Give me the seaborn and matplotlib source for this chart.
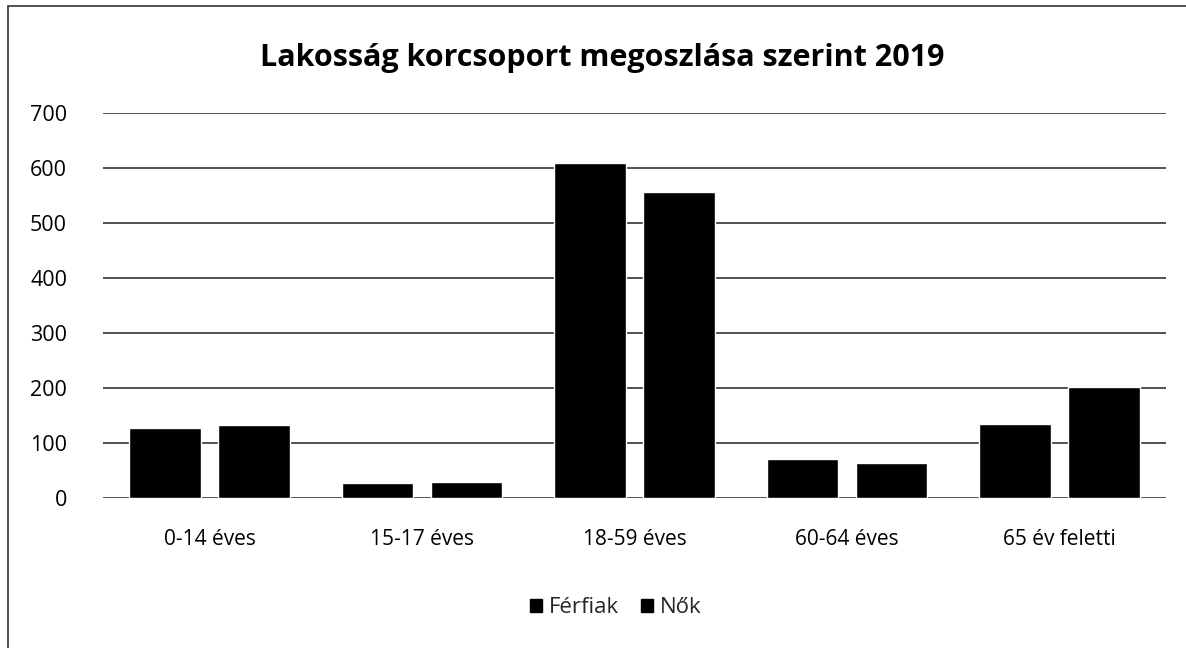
import matplotlib
matplotlib.use("Agg")
import matplotlib.pyplot as plt
import seaborn as sns
import pandas as pd
from matplotlib.patches import Rectangle, Patch

categories = ["0-14 éves", "15-17 éves", "18-59 éves", "60-64 éves", "65 év feletti"]
ferfiak = [127, 27, 608, 71, 135]
nok = [133, 30, 557, 65, 202]
series_names = ["Férfiak", "Nők"]
title = "Lakosság korcsoport megoszlása szerint 2019"
yticks = [0, 100, 200, 300, 400, 500, 600, 700]

df = pd.DataFrame({
    "cat": categories * 2,
    "val": ferfiak + nok,
    "ser": [series_names[0]] * len(categories) + [series_names[1]] * len(categories),
})

sns.set_theme(style="white")
plt.rcParams['font.family'] = ['Open Sans', 'DejaVu Sans']

fig = plt.figure(figsize=(11.86, 6.48), dpi=100)
ax = fig.add_axes([0.087, 0.231, 0.896, 0.595])

sns.barplot(data=df, x="cat", y="val", hue="ser", palette=["#000000", "#000000"],
            width=0.84, gap=0.2, ax=ax, saturation=1, legend=False, zorder=3)

ax.set_ylim(0, 700)
ax.set_yticks(yticks)
ax.yaxis.grid(True, color="#222222", linewidth=1.1, zorder=0)
ax.set_axisbelow(True)
for s in ax.spines.values():
    s.set_visible(False)
ax.set_xlabel("")
ax.set_ylabel("")
ax.tick_params(axis="y", labelsize=15.5, pad=26, length=0, colors="#000000")
ax.tick_params(axis="x", labelsize=15, pad=22, length=0, colors="#000000")
ax.set_xlim(-0.5, len(categories) - 0.5)

fig.text(0.508, 0.91, title, ha="center", va="center", fontsize=22, fontweight="bold", color="#000000")

handles = [Patch(facecolor="#000000", edgecolor="#000000", label=n) for n in series_names]
fig.legend(handles=handles, loc="center", bbox_to_anchor=(0.519, 0.062), ncol=2, frameon=False,
           fontsize=16, handlelength=0.55, handleheight=0.55, handletextpad=0.3, columnspacing=1.0)

fig.patches.append(Rectangle((0.007, -0.01), 1.0, 1.0, transform=fig.transFigure,
                             fill=False, edgecolor="#333333", linewidth=1.2))

fig.savefig("out.png", dpi=100)
